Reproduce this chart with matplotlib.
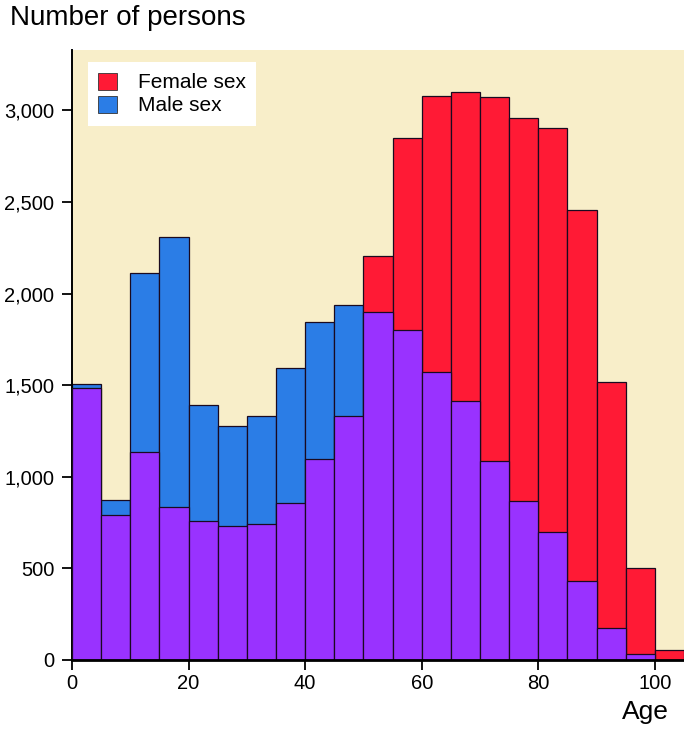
import numpy as np
import matplotlib
matplotlib.use('Agg')
from matplotlib import pyplot as plt
from matplotlib.patches import Patch
from matplotlib.ticker import FuncFormatter

# 5-year age bins, counts
age_edges = list(range(0, 105, 5))
female = [1485, 793, 1138, 833, 760, 729, 744, 858, 1098, 1333, 2205,
          2849, 3077, 3100, 3075, 2960, 2906, 2456, 1517, 504, 52]
male = [1507, 875, 2111, 2309, 1393, 1276, 1331, 1596, 1845, 1938, 1902,
        1799, 1571, 1416, 1086, 868, 697, 433, 174, 31, 0]
y_ticks = [0, 500, 1000, 1500, 2000, 2500, 3000]
x_ticks = [0, 20, 40, 60, 80, 100]

RED = '#ff1a35'
BLUE = '#2b7de6'
PURPLE = '#9932ff'
BG = '#f8eec9'

plt.rcParams['font.family'] = ['Liberation Sans', 'DejaVu Sans']

fig = plt.figure(figsize=(6.84, 7.30), dpi=100)
ax = fig.add_axes([0.1053, 0.0959, 0.8947, 0.8356])
ax.set_facecolor(BG)

f = np.array(female)
m = np.array(male)
top = np.maximum(f, m)
low = np.minimum(f, m)
top_col = [RED if a > b else BLUE for a, b in zip(f, m)]

# taller series in its own colour, the overlap in purple on top
ax.bar(age_edges, top, width=5, align='edge', color=top_col,
       edgecolor='#1a0a20', linewidth=0.9, zorder=2)
ax.bar(age_edges, low, width=5, align='edge', color=PURPLE,
       edgecolor='#1a0a20', linewidth=0.9, zorder=3)

ax.set_xlim(0, 105)
ax.set_ylim(0, 3330)
ax.set_xticks(x_ticks)
ax.set_yticks(y_ticks)
ax.yaxis.set_major_formatter(FuncFormatter(lambda v, p: f'{int(v):,}'))
ax.tick_params(axis='both', direction='out', length=7.2, width=1.3,
               labelsize=14.5, colors='black')
ax.tick_params(axis='x', pad=3)
ax.tick_params(axis='y', pad=5.5)

for s in ['top', 'right']:
    ax.spines[s].set_visible(False)
ax.spines['left'].set_linewidth(1.4)
ax.spines['bottom'].set_linewidth(2.0)
ax.spines['bottom'].set_zorder(5)

handles = [Patch(facecolor=RED, edgecolor='#333333', linewidth=0.6, label='Female sex'),
           Patch(facecolor=BLUE, edgecolor='#333333', linewidth=0.6, label='Male sex')]
leg = ax.legend(handles=handles, loc='upper left', bbox_to_anchor=(0.026, 0.98),
                fontsize=15, frameon=True, fancybox=False, borderpad=0.5,
                handlelength=0.9, handleheight=0.9, handletextpad=1.0,
                labelspacing=0.15, borderaxespad=0)
leg.get_frame().set_facecolor('white')
leg.get_frame().set_edgecolor('none')
leg.get_frame().set_alpha(1)

fig.text(0.015, 1 - 25 / 730, 'Number of persons', fontsize=20,
         ha='left', va='baseline')
fig.text(0.978, 11 / 730, 'Age', fontsize=19, ha='right', va='baseline')

fig.savefig('out.png', dpi=100)
